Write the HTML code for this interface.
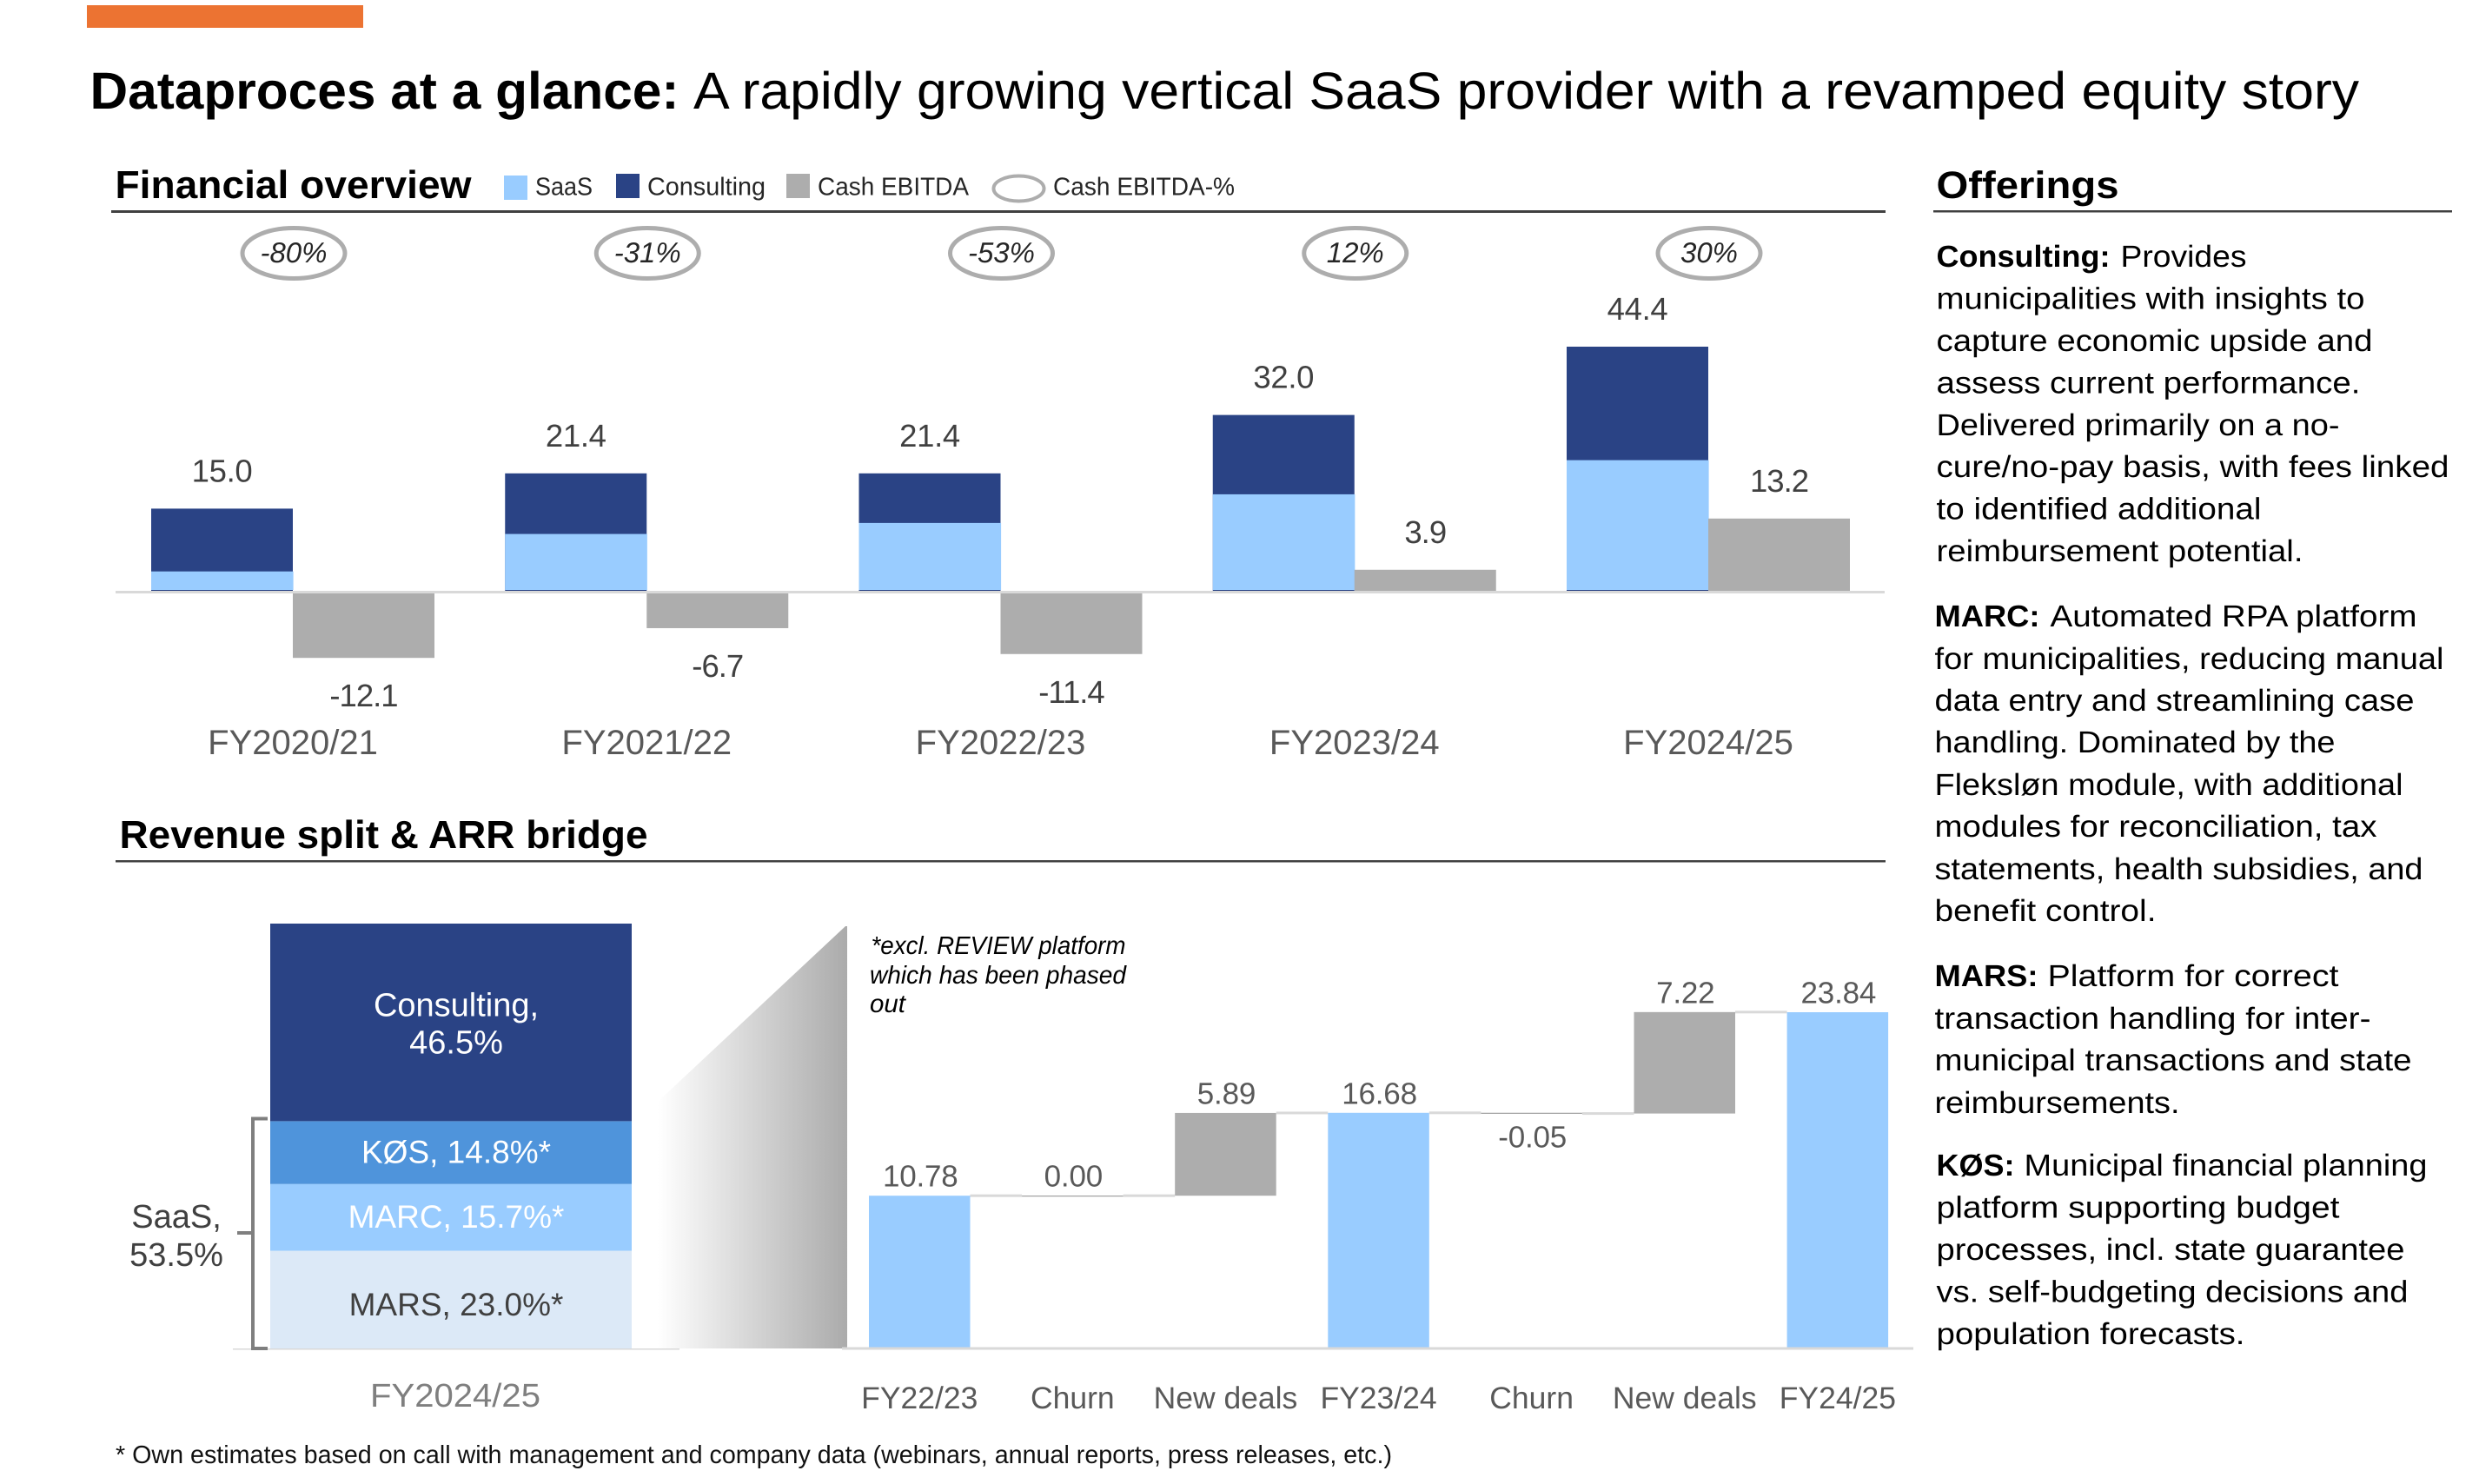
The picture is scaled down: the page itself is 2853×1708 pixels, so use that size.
<!DOCTYPE html>
<html lang="en">
<head>
<meta charset="utf-8">
<title>Dataproces at a glance</title>
<style>
html,body{margin:0;padding:0;background:#fff;width:2853px;height:1708px;overflow:hidden}
svg{display:block}
text{font-family:"Liberation Sans",Arial,sans-serif;text-rendering:geometricPrecision}
.b{font-weight:700;fill:#000}
.p{font-size:35px;fill:#000}
.pb{font-size:35px;font-weight:700;fill:#000}
.leg{font-size:29px;fill:#262626}
</style>
</head>
<body>
<svg id="page" xmlns="http://www.w3.org/2000/svg" width="2853" height="1708" viewBox="0 0 2853 1708">
<defs>
<linearGradient id="fade" x1="757" y1="0" x2="975" y2="0" gradientUnits="userSpaceOnUse">
<stop offset="0" stop-color="#ffffff"/><stop offset="1" stop-color="#ababab"/>
</linearGradient>
</defs>
<rect x="100" y="6" width="318" height="26" fill="#EC7332"/>
<text class="b" x="103.5" y="125" font-size="60" textLength="678" lengthAdjust="spacingAndGlyphs">Dataproces at a glance:</text>
<text x="798" y="125" font-size="60" fill="#000" textLength="1917" lengthAdjust="spacingAndGlyphs">A rapidly growing vertical SaaS provider with a revamped equity story</text>

<text class="b" x="132.5" y="228" font-size="45" textLength="410" lengthAdjust="spacingAndGlyphs">Financial overview</text>
<rect x="128" y="242" width="2042" height="3" fill="#404040"/>

<g>
<rect x="580" y="202" width="27" height="28" fill="#99CCFF"/>
<text class="leg" x="616" y="224.5" textLength="66" lengthAdjust="spacingAndGlyphs">SaaS</text>
<rect x="709" y="200" width="27" height="28" fill="#2A4385"/>
<text class="leg" x="745" y="224.5" textLength="136" lengthAdjust="spacingAndGlyphs">Consulting</text>
<rect x="905" y="200" width="27" height="28" fill="#ADADAD"/>
<text class="leg" x="941" y="224.5" textLength="174" lengthAdjust="spacingAndGlyphs">Cash EBITDA</text>
<ellipse cx="1172.5" cy="217" rx="29" ry="14.5" fill="#fff" stroke="#ADADAD" stroke-width="4"/>
<text class="leg" x="1212" y="224.5" textLength="209" lengthAdjust="spacingAndGlyphs">Cash EBITDA-%</text>
</g>

<g id="financial-chart"></g>

<text class="b" x="137.5" y="976" font-size="45" textLength="608" lengthAdjust="spacingAndGlyphs">Revenue split &amp; ARR bridge</text>
<rect x="133" y="990" width="2037" height="2.5" fill="#404040"/>

<polygon points="757,1268 973,1066 975,1066 975,1552 757,1552" fill="url(#fade)"/>
<rect x="268" y="1552" width="514" height="1.5" fill="#D9D9D9"/>
<g id="split-chart"></g>
<path d="M308 1287.5H291V1552H308M291 1419H273" fill="none" stroke="#7F7F7F" stroke-width="4"/>
<text x="203" y="1413" font-size="38" fill="#404040" text-anchor="middle">SaaS,</text>
<text x="203" y="1457" font-size="38" fill="#404040" text-anchor="middle">53.5%</text>
<text x="426" y="1619" font-size="38" fill="#7F7F7F" textLength="196" lengthAdjust="spacingAndGlyphs">FY2024/25</text>

<text x="1002.5" y="1098" font-size="29" font-style="italic" fill="#000" textLength="293" lengthAdjust="spacingAndGlyphs">*excl. REVIEW platform</text>
<text x="1001" y="1132" font-size="29" font-style="italic" fill="#000" textLength="295" lengthAdjust="spacingAndGlyphs">which has been phased</text>
<text x="1001" y="1165" font-size="29" font-style="italic" fill="#000" textLength="41" lengthAdjust="spacingAndGlyphs">out</text>

<g id="bridge-chart"></g>

<text x="133" y="1684" font-size="29" fill="#111" textLength="1469" lengthAdjust="spacingAndGlyphs">* Own estimates based on call with management and company data (webinars, annual reports, press releases, etc.)</text>

<g transform="translate(-1.5 0)">
<text class="b" x="2230" y="228" font-size="44" textLength="210" lengthAdjust="spacingAndGlyphs">Offerings</text>
<rect x="2226.5" y="242" width="597" height="2.5" fill="#404040"/>

<g>
<text class="pb" x="2230" y="307" textLength="200" lengthAdjust="spacingAndGlyphs">Consulting:</text>
<text class="p" x="2442" y="307" textLength="145" lengthAdjust="spacingAndGlyphs">Provides</text>
<text class="p" x="2230" y="355.5" textLength="493" lengthAdjust="spacingAndGlyphs">municipalities with insights to</text>
<text class="p" x="2230" y="404" textLength="502" lengthAdjust="spacingAndGlyphs">capture economic upside and</text>
<text class="p" x="2230" y="452.5" textLength="488" lengthAdjust="spacingAndGlyphs">assess current performance.</text>
<text class="p" x="2230" y="501" textLength="464" lengthAdjust="spacingAndGlyphs">Delivered primarily on a no-</text>
<text class="p" x="2230" y="549" textLength="590" lengthAdjust="spacingAndGlyphs">cure/no-pay basis, with fees linked</text>
<text class="p" x="2230" y="597.5" textLength="374" lengthAdjust="spacingAndGlyphs">to identified additional</text>
<text class="p" x="2230" y="646" textLength="422" lengthAdjust="spacingAndGlyphs">reimbursement potential.</text>
</g>

<g>
<text class="pb" x="2228" y="721" textLength="121" lengthAdjust="spacingAndGlyphs">MARC:</text>
<text class="p" x="2361" y="721" textLength="422" lengthAdjust="spacingAndGlyphs">Automated RPA platform</text>
<text class="p" x="2228" y="770" textLength="586" lengthAdjust="spacingAndGlyphs">for municipalities, reducing manual</text>
<text class="p" x="2228" y="818" textLength="552" lengthAdjust="spacingAndGlyphs">data entry and streamlining case</text>
<text class="p" x="2228" y="866" textLength="461" lengthAdjust="spacingAndGlyphs">handling. Dominated by the</text>
<text class="p" x="2228" y="915" textLength="539" lengthAdjust="spacingAndGlyphs">Fleksløn module, with additional</text>
<text class="p" x="2228" y="963" textLength="509" lengthAdjust="spacingAndGlyphs">modules for reconciliation, tax</text>
<text class="p" x="2228" y="1012" textLength="562" lengthAdjust="spacingAndGlyphs">statements, health subsidies, and</text>
<text class="p" x="2228" y="1060" textLength="255" lengthAdjust="spacingAndGlyphs">benefit control.</text>
</g>

<g>
<text class="pb" x="2228" y="1135" textLength="119" lengthAdjust="spacingAndGlyphs">MARS:</text>
<text class="p" x="2358" y="1135" textLength="335" lengthAdjust="spacingAndGlyphs">Platform for correct</text>
<text class="p" x="2228" y="1184" textLength="502" lengthAdjust="spacingAndGlyphs">transaction handling for inter-</text>
<text class="p" x="2228" y="1232" textLength="549" lengthAdjust="spacingAndGlyphs">municipal transactions and state</text>
<text class="p" x="2228" y="1281" textLength="282" lengthAdjust="spacingAndGlyphs">reimbursements.</text>
</g>

<g>
<text class="pb" x="2230" y="1353" textLength="90" lengthAdjust="spacingAndGlyphs">KØS:</text>
<text class="p" x="2331" y="1353" textLength="464" lengthAdjust="spacingAndGlyphs">Municipal financial planning</text>
<text class="p" x="2230" y="1401.5" textLength="464" lengthAdjust="spacingAndGlyphs">platform supporting budget</text>
<text class="p" x="2230" y="1450" textLength="539" lengthAdjust="spacingAndGlyphs">processes, incl. state guarantee</text>
<text class="p" x="2230" y="1498.5" textLength="543" lengthAdjust="spacingAndGlyphs">vs. self-budgeting decisions and</text>
<text class="p" x="2230" y="1547" textLength="355" lengthAdjust="spacingAndGlyphs">population forecasts.</text>
</g>
</g>
</svg>

<script>
// Financial overview data
const fyCategories = ['FY2020/21', 'FY2021/22', 'FY2022/23', 'FY2023/24', 'FY2024/25'];
const saasValues = [3.6, 10.4, 12.4, 17.6, 23.8];
const consultingValues = [11.4, 11.0, 9.0, 14.4, 20.6];
const ebitdaValues = [-12.1, -6.7, -11.4, 3.9, 13.2];
const ebitdaMarginValues = [-80, -31, -53, 12, 30];

// Revenue split data (bottom to top)
const splitNames = ['MARS', 'MARC', 'KØS', 'Consulting'];
const splitShares = [23.0, 15.7, 14.8, 46.5];

// ARR bridge data
const bridgeCategories = ['FY22/23', 'Churn', 'New deals', 'FY23/24', 'Churn', 'New deals', 'FY24/25'];
const bridgeValues = [10.78, 0.00, 5.89, 16.68, -0.05, 7.22, 23.84];
const bridgeKinds = ['total', 'delta', 'delta', 'total', 'delta', 'delta', 'total'];

const NS = 'http://www.w3.org/2000/svg';
function mk(parent, tag, props) {
  const el = document.createElementNS(NS, tag);
  for (const k in props) el.setAttribute(k, props[k]);
  parent.appendChild(el);
  return el;
}
function txt(parent, s, x, y, size, fill, extra) {
  const el = mk(parent, 'text', Object.assign({x: x, y: y, 'font-size': size, fill: fill, 'text-anchor': 'middle'}, extra || {}));
  el.textContent = s;
  return el;
}

// ---------- Financial overview ----------
(function () {
  const g = document.getElementById('financial-chart');
  const base = 680.5, pxPerUnit = 6.34, groupStart = 337, groupStep = 407.25, barW = 163;
  const yFin = v => base - v * pxPerUnit;
  const xFin = i => groupStart + i * groupStep;
  fyCategories.forEach(function (cat, i) {
    const c = xFin(i);
    const total = saasValues[i] + consultingValues[i];
    const e = ebitdaValues[i];

    const navy = mk(g, 'rect', {x: c - barW, y: yFin(total), width: barW, height: base - yFin(total), fill: '#2A4385'});
    
    

    const light = mk(g, 'rect', {x: c - barW, y: yFin(saasValues[i]), width: barW + 0.6, height: base - 1.5 - yFin(saasValues[i]), fill: '#99CCFF'});
    
    

    const grey = mk(g, 'rect', {x: c, y: Math.min(yFin(e), base), width: barW, height: Math.abs(e) * pxPerUnit, fill: '#ADADAD'});
    
    

    const totalLabel = txt(g, total.toFixed(1), c - barW / 2, yFin(total) - 31, 36.5, '#404040', {'letter-spacing': '-0.3'});
    
    

    const eY = e < 0 ? yFin(e) + 56 : yFin(e) - 31;
    const eLabel = txt(g, e.toFixed(1), c + barW / 2, eY, 36.5, '#404040', {'letter-spacing': '-1'});
    
    

    const catLabel = txt(g, cat, c, 868, 40, '#595959');
    
    

    const oval = mk(g, 'ellipse', {cx: c + 1, cy: 291.5, rx: 59, ry: 29, fill: '#fff', stroke: '#ADADAD', 'stroke-width': 5});
    
    

    const pct = txt(g, ebitdaMarginValues[i] + '%', c + 1, 302, 33, '#262626', {'font-style': 'italic'});
    
    
  });
  const axis = mk(g, 'rect', {x: 133, y: 680, width: 2036, height: 3, fill: '#D9D9D9'});
  
  
})();

// ---------- Revenue split ----------
(function () {
  const g = document.getElementById('split-chart');
  const base = 1552, pxPerPct = 4.89, left = 311, width = 416;
  const segFills = ['#DCE9F7', '#99CCFF', '#4F94DB', '#2A4385'];
  const inkFills = ['#404040', '#ffffff', '#ffffff', '#ffffff'];
  let cum = 0;
  splitShares.forEach(function (share, i) {
    const top = base - (cum + share) * pxPerPct;
    const h = share * pxPerPct;
    const seg = mk(g, 'rect', {x: left, y: top, width: width, height: h, fill: segFills[i]});
    
    
    const mid = top + h / 2;
    const cx = left + width / 2 + 6;
    if (splitNames[i] === 'Consulting') {
      const l1 = txt(g, splitNames[i] + ',', cx, mid - 7, 38, inkFills[i]);
      
      
      const l2 = txt(g, share.toFixed(1) + '%', cx, mid + 36, 38, inkFills[i]);
      
      
    } else {
      const nudge = splitNames[i] === 'MARS' ? 18 : 12;
      const l = txt(g, splitNames[i] + ', ' + share.toFixed(1) + '%*', cx, mid + nudge, 37, inkFills[i]);
      
      
    }
    cum += share;
  });
})();

// ---------- ARR bridge ----------
(function () {
  const g = document.getElementById('bridge-chart');
  const base = 1550.5, pxPerUnit = 16.17, firstX = 1000, step = 176.1, barW = 116.5;
  const yB = v => base - v * pxPerUnit;
  const xB = i => firstX + i * step;
  const axis = mk(g, 'rect', {x: 969, y: 1550.5, width: 1233, height: 3, fill: '#D9D9D9'});
  
  
  let level = 0;
  bridgeValues.forEach(function (v, i) {
    const x = xB(i);
    const isTotal = bridgeKinds[i] === 'total';
    const from = isTotal ? 0 : level;
    const to = isTotal ? v : level + v;
    const topV = Math.max(from, to), botV = Math.min(from, to);
    let fill = '#99CCFF';
    if (!isTotal) fill = v > 0 ? '#ADADAD' : '#8C8C8C';
    const bar = mk(g, 'rect', {x: x, y: yB(topV), width: barW, height: Math.max(1, (topV - botV) * pxPerUnit), fill: fill});
    
    

    const labelY = v < 0 ? yB(botV) + 39 : yB(topV) - 10.5;
    const vLabel = txt(g, v.toFixed(2), x + barW / 2 + 1, labelY, 35, '#595959', {'letter-spacing': '-0.2'});
    
    

    const cLabel = txt(g, bridgeCategories[i], x + barW / 2, 1621, 35.5, '#595959');
    
    

    level = to;
    if (i < bridgeValues.length - 1) {
      const conn = mk(g, 'rect', {x: x + barW, y: yB(level) - 1.5, width: step - barW, height: 3, fill: '#D9D9D9'});
      
      
    }
  });
})();
</script>
</body>
</html>
